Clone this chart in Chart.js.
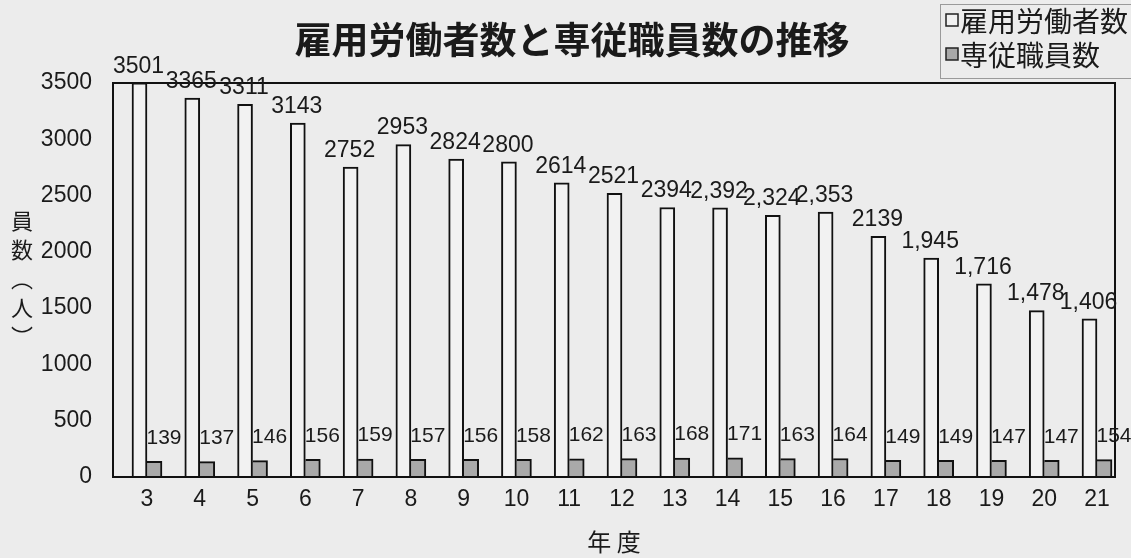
<!DOCTYPE html>
<html>
<head>
<meta charset="utf-8">
<script src="https://cdn.jsdelivr.net/npm/chart.js@4.4.1/dist/chart.umd.min.js"></script>
<style>
  html, body { margin: 0; padding: 0; background: #ececec; }
  #wrap { width: 1131px; height: 558px; }
</style>
</head>
<body>
<div id="wrap"><canvas id="c" width="1131" height="558"></canvas></div>
<script>
// ---- data ----
const years = [3, 4, 5, 6, 7, 8, 9, 10, 11, 12, 13, 14, 15, 16, 17, 18, 19, 20, 21];
const workers = [3501, 3365, 3311, 3143, 2752, 2953, 2824, 2800, 2614, 2521, 2394, 2392, 2324, 2353, 2139, 1945, 1716, 1478, 1406];
const staff = [139, 137, 146, 156, 159, 157, 156, 158, 162, 163, 168, 171, 163, 164, 149, 149, 147, 147, 154];
const workerLabels = ['3501', '3365', '3311', '3143', '2752', '2953', '2824', '2800', '2614', '2521', '2394', '2,392', '2,324', '2,353', '2139', '1,945', '1,716', '1,478', '1,406'];
const staffLabels = ['139', '137', '146', '156', '159', '157', '156', '158', '162', '163', '168', '171', '163', '164', '149', '149', '147', '147', '154'];
const yTickValues = [0, 500, 1000, 1500, 2000, 2500, 3000, 3500];
const seriesNames = ['雇用労働者数', '専従職員数'];
const titleText = '雇用労働者数と専従職員数の推移';
const yAxisChars = ['員', '数', '︵', '人', '︶'];
const xAxisTitle = '年 度';

const CJK = '"Noto Sans CJK JP", "Noto Sans CJK SC", sans-serif';
const NUM = '"Liberation Sans", Arial, sans-serif';
const INK = '#1a1a1a';
const BG = '#ececec';
const WHITE_FILL = '#f2f2f2';
const GRAY_FILL = '#a9a9a9';

const bgPlugin = {
  id: 'bg',
  beforeDraw(chart) {
    const ctx = chart.ctx;
    ctx.save();
    ctx.fillStyle = BG;
    ctx.fillRect(0, 0, chart.width, chart.height);
    ctx.restore();
  }
};

const framePlugin = {
  id: 'frame',
  afterDatasetsDraw(chart) {
    const {ctx, chartArea: a} = chart;
    ctx.save();
    ctx.strokeStyle = '#111';
    ctx.lineWidth = 2;
    ctx.strokeRect(a.left, a.top, a.right - a.left, a.bottom - a.top);
    ctx.restore();
  }
};

const labelPlugin = {
  id: 'valueLabels',
  afterDatasetsDraw(chart) {
    const ctx = chart.ctx;
    ctx.save();
    ctx.fillStyle = INK;
    ctx.textAlign = 'center';
    ctx.textBaseline = 'bottom';
    const m0 = chart.getDatasetMeta(0);
    ctx.font = '23px ' + NUM;
    m0.data.forEach((el, i) => {
      ctx.fillText(workerLabels[i], el.x - 1, el.y - 5);
    });
    const m1 = chart.getDatasetMeta(1);
    ctx.font = '21px ' + NUM;
    m1.data.forEach((el, i) => {
      ctx.fillText(staffLabels[i], el.x + el.width / 2 + 2, el.y - 13);
    });
    ctx.restore();
  }
};

const decorPlugin = {
  id: 'decor',
  afterDraw(chart) {
    const ctx = chart.ctx;
    ctx.save();
    // title
    ctx.fillStyle = INK;
    ctx.font = 'bold 37px ' + CJK;
    ctx.textAlign = 'center';
    ctx.textBaseline = 'middle';
    ctx.fillText(titleText, 572, 40);

    // legend box
    ctx.strokeStyle = '#9a9a9a';
    ctx.lineWidth = 1;
    ctx.strokeRect(940.5, 4.5, 200, 74);
    const ds = chart.data.datasets;
    ctx.font = '28px ' + CJK;
    ctx.textAlign = 'left';
    const rows = [20, 54];
    ds.forEach((d, i) => {
      const cy = rows[i];
      ctx.fillStyle = d.backgroundColor;
      ctx.fillRect(946, cy - 6, 12, 12);
      ctx.strokeStyle = '#222';
      ctx.lineWidth = 1.5;
      ctx.strokeRect(946, cy - 6, 12, 12);
      ctx.fillStyle = INK;
      ctx.fillText(d.label, 960, cy + 1);
    });

    // vertical y axis title
    ctx.font = '22px ' + CJK;
    ctx.textAlign = 'center';
    ctx.textBaseline = 'middle';
    const startY = 221;
    const step = 29;
    yAxisChars.forEach((ch, i) => {
      ctx.fillText(ch, 22, startY + i * step);
    });
    ctx.restore();
  }
};

const ctx = document.getElementById('c').getContext('2d');
new Chart(ctx, {
  type: 'bar',
  data: {
    datasets: [
      {
        label: seriesNames[0],
        data: years.map((y, i) => ({x: y, y: workers[i]})),
        backgroundColor: WHITE_FILL,
        borderColor: '#111',
        borderWidth: {left: 2, top: 2, right: 2, bottom: 0},
        barThickness: 15
      },
      {
        label: seriesNames[1],
        data: years.map((y, i) => ({x: y, y: staff[i]})),
        backgroundColor: GRAY_FILL,
        borderColor: '#111',
        borderWidth: {left: 0, top: 2, right: 2, bottom: 0},
        barThickness: 15
      }
    ]
  },
  options: {
    responsive: false,
    animation: false,
    devicePixelRatio: 1,
    layout: { padding: { top: 83, right: 16, left: 0, bottom: 0 } },
    plugins: {
      legend: { display: false },
      title: { display: false },
      tooltip: { enabled: false }
    },
    scales: {
      x: {
        type: 'linear',
        offset: false,
        bounds: 'data',
        min: 2.356,
        max: 21.341,
        grid: { display: false, drawTicks: false },
        border: { display: false },
        afterBuildTicks(s) { s.ticks = years.map(v => ({value: v})); },
        ticks: {
          autoSkip: false,
          maxRotation: 0,
          padding: 9,
          color: INK,
          font: { family: NUM, size: 23 },
          callback: v => String(v)
        },
        title: {
          display: true,
          text: xAxisTitle,
          color: INK,
          font: { family: CJK, size: 24 },
          padding: { top: 0, bottom: 2 }
        },
        afterFit(s) { s.height = 81; }
      },
      y: {
        min: 0,
        max: 3500,
        grid: { display: false, drawTicks: false },
        border: { display: false },
        afterBuildTicks(s) { s.ticks = yTickValues.map(v => ({value: v})); },
        ticks: {
          padding: 21,
          color: INK,
          font: { family: NUM, size: 23 },
          callback: v => String(v)
        },
        afterFit(s) { s.width = 113; }
      }
    }
  },
  plugins: [bgPlugin, framePlugin, labelPlugin, decorPlugin]
});
</script>
</body>
</html>
